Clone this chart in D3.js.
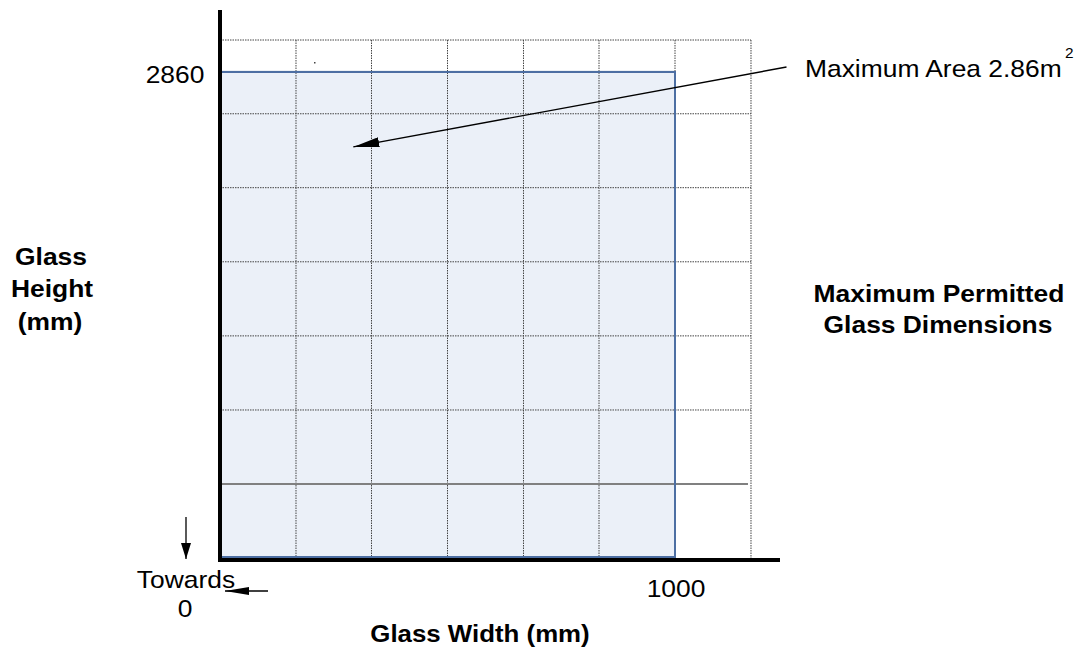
<!DOCTYPE html>
<html><head><meta charset="utf-8">
<script src="https://cdn.jsdelivr.net/npm/d3@7"></script>
<style>body{margin:0;background:#fff}svg{display:block}text{font-family:"Liberation Sans",Arial,sans-serif}</style>
</head><body><div id="chart"></div>
<script>
// ---- data ----
const maxWidth = 1000;          // mm
const maxHeight = 2860;         // mm
const xGridTicks = [0, 167, 333, 500, 667, 833, 1000, 1167];
const yGridTicks = [0, 436, 871, 1307, 1743, 2179, 2614, 3048];
const solidGridY = [436];
const xTickLabels = [{v: 1000, t: "1000"}];
const yTickLabels = [{v: 2860, t: "2860"}];
const annotationText = "Maximum Area 2.86m";
const annotationFrom = [1245, 2889];  // mm (data coords)
const annotationTo = [293, 2419];

const W = 1081, H = 648;
const svg = d3.select("#chart").append("svg").attr("width", W).attr("height", H);
const x = d3.scaleLinear().domain([0, maxWidth]).range([220, 675]);
const y = d3.scaleLinear().domain([0, 3048]).range([558, 40]);

const defs = svg.append("defs");
defs.append("marker").attr("id","ah").attr("viewBox","0 0 26 10").attr("refX",26).attr("refY",5)
  .attr("markerWidth",26).attr("markerHeight",10).attr("markerUnits","userSpaceOnUse").attr("orient","auto")
  .append("path").attr("d","M0,0 L26,5 L0,10 Z").attr("fill","#000");
defs.append("marker").attr("id","ahs").attr("viewBox","0 0 16 10").attr("refX",16).attr("refY",5)
  .attr("markerWidth",16).attr("markerHeight",10).attr("markerUnits","userSpaceOnUse").attr("orient","auto")
  .append("path").attr("d","M0,0 L16,5 L0,10 Z").attr("fill","#000");
defs.append("marker").attr("id","ahl").attr("viewBox","0 0 24 8").attr("refX",24).attr("refY",4)
  .attr("markerWidth",24).attr("markerHeight",8).attr("markerUnits","userSpaceOnUse").attr("orient","auto")
  .append("path").attr("d","M0,0 L24,4 L0,8 Z").attr("fill","#000");

// permitted area box
svg.append("rect").attr("x", x(0)).attr("y", y(maxHeight))
  .attr("width", x(maxWidth) - x(0)).attr("height", y(0) - y(maxHeight) - 1)
  .attr("fill", "#ebf0f8").attr("stroke", "#4d6fa3").attr("stroke-width", 2);

// grid
const xEnd = x(xGridTicks[xGridTicks.length-1]);
svg.append("g").selectAll("line").data(xGridTicks.slice(1)).join("line")
  .attr("x1", d => x(d)).attr("x2", d => x(d)).attr("y1", y(3048)).attr("y2", y(0))
  .attr("stroke", "#444").attr("stroke-width", 1).attr("stroke-dasharray", "1.5,1");
svg.append("g").selectAll("line").data(yGridTicks.slice(1).filter(d => !solidGridY.includes(d))).join("line")
  .attr("x1", x(0)).attr("x2", xEnd).attr("y1", d => y(d)).attr("y2", d => y(d))
  .attr("stroke", "#444").attr("stroke-width", 1).attr("stroke-dasharray", "1.5,1");
svg.append("g").selectAll("line").data(solidGridY).join("line")
  .attr("x1", x(0)).attr("x2", xEnd - 3).attr("y1", d => y(d)).attr("y2", d => y(d))
  .attr("stroke", "#808080").attr("stroke-width", 2);

// redraw box outline on top of grid
svg.append("rect").attr("x", x(0)).attr("y", y(maxHeight))
  .attr("width", x(maxWidth) - x(0)).attr("height", y(0) - y(maxHeight) - 1)
  .attr("fill", "none").attr("stroke", "#4d6fa3").attr("stroke-width", 2);

// axes
svg.append("line").attr("x1", 220).attr("x2", 220).attr("y1", 10).attr("y2", 562)
  .attr("stroke", "#000").attr("stroke-width", 4);
svg.append("line").attr("x1", 218).attr("x2", 780).attr("y1", 560).attr("y2", 560)
  .attr("stroke", "#000").attr("stroke-width", 4);

// speck
svg.append("rect").attr("x", 314).attr("y", 62).attr("width", 1.5).attr("height", 1.5).attr("fill", "#444");

function txt(s, cx, by, size, weight, anchor) {
  return svg.append("text").attr("transform", `translate(${cx},${by}) scale(1.1,1)`)
    .attr("font-size", size).attr("font-weight", weight || "normal")
    .attr("text-anchor", anchor || "middle").attr("fill", "#000").text(s);
}

// tick labels
yTickLabels.forEach(d => txt(d.t, 175, y(d.v) + 11, 24, "normal", "middle"));
xTickLabels.forEach(d => txt(d.t, x(d.v) + 1, 597, 24, "normal", "middle"));

// axis titles
txt("Glass", 51, 265, 24, "bold"); txt("Height", 52, 297, 24, "bold"); txt("(mm)", 50, 330, 24, "bold");
txt("Glass Width (mm)", 480, 642, 23.5, "bold");
txt("Maximum Permitted", 939, 302, 24, "bold");
txt("Glass Dimensions", 938, 333, 24, "bold");

// towards 0
txt("Towards", 186, 588, 24); txt("0", 185, 617, 24);
svg.append("line").attr("x1", 186).attr("x2", 186).attr("y1", 517).attr("y2", 559)
  .attr("stroke", "#000").attr("stroke-width", 1.3).attr("marker-end", "url(#ahs)");
svg.append("line").attr("x1", 268).attr("x2", 225).attr("y1", 591).attr("y2", 591)
  .attr("stroke", "#000").attr("stroke-width", 1.3).attr("marker-end", "url(#ahl)");

// annotation
txt(annotationText, 805, 77, 24, "normal", "start");
txt("2", 1065, 58, 14, "normal", "start");
svg.append("line")
  .attr("x1", x(annotationFrom[0])).attr("y1", y(annotationFrom[1]))
  .attr("x2", x(annotationTo[0])).attr("y2", y(annotationTo[1]))
  .attr("stroke", "#000").attr("stroke-width", 1.4).attr("marker-end", "url(#ah)");
</script></body></html>
